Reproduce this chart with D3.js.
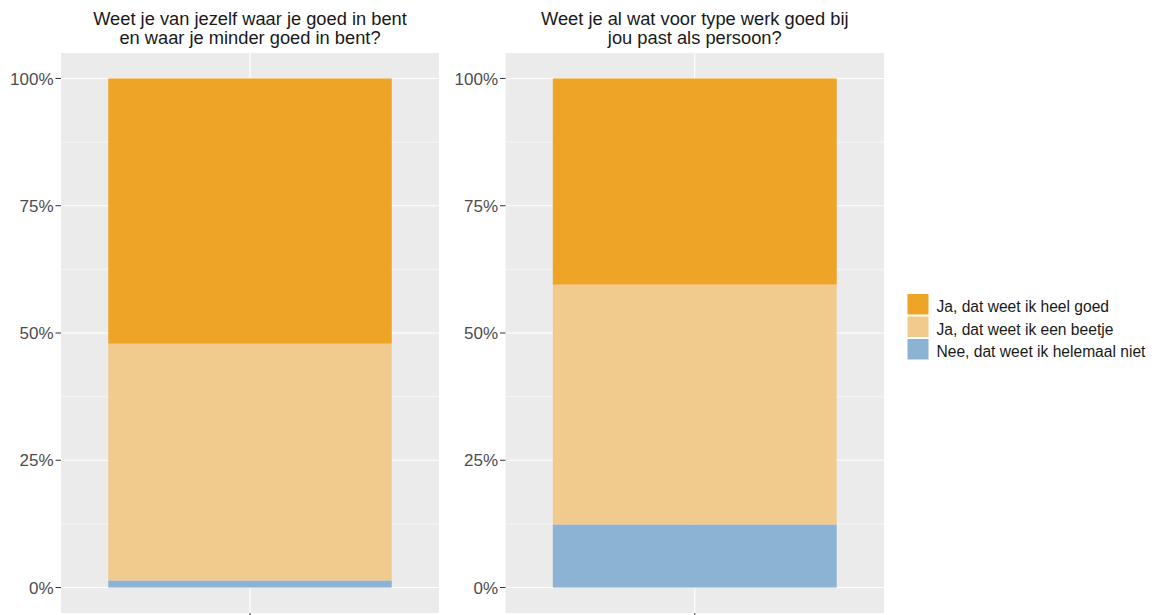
<!DOCTYPE html>
<html><head><meta charset="utf-8">
<script src="https://cdn.jsdelivr.net/npm/d3@7"></script>
<style>body{margin:0;background:#fff}svg{display:block}</style>
</head><body>
<svg id="c" width="1152" height="615"></svg>
<script>
const titles = [
  ["Weet je van jezelf waar je goed in bent", "en waar je minder goed in bent?"],
  ["Weet je al wat voor type werk goed bij", "jou past als persoon?"]
];
const categories = ["Ja, dat weet ik heel goed", "Ja, dat weet ik een beetje", "Nee, dat weet ik helemaal niet"];
const colors = ["#EEA426", "#F1CB8D", "#8CB3D3"];
// share per category, per panel (heel goed, beetje, helemaal niet)
const panel1Values = [0.521, 0.465, 0.014];
const panel2Values = [0.405, 0.471, 0.124];
const yTicks = [0, 0.25, 0.5, 0.75, 1];
const yTickLabels = ["0%", "25%", "50%", "75%", "100%"];
const yMinor = [0.125, 0.375, 0.625, 0.875];

const svg = d3.select("#c");
const font = "'Liberation Sans', Arial, sans-serif";
const panels = [
  {left: 61, right: 439, values: panel1Values, title: titles[0]},
  {left: 505.5, right: 884, values: panel2Values, title: titles[1]}
];
const pTop = 53, pBottom = 613;
const y = d3.scaleLinear().domain([-0.05, 1.05]).range([pBottom, pTop]);

panels.forEach(p => {
  const x = d3.scaleLinear().domain([0.4, 1.6]).range([p.left, p.right]);
  const g = svg.append("g");
  g.append("rect").attr("x", p.left).attr("y", pTop).attr("width", p.right - p.left)
    .attr("height", pBottom - pTop).attr("fill", "#EBEBEB");
  g.selectAll(".minor").data(yMinor).join("line")
    .attr("x1", p.left).attr("x2", p.right).attr("y1", d => y(d)).attr("y2", d => y(d))
    .attr("stroke", "#fff").attr("stroke-width", 0.55);
  g.selectAll(".major").data(yTicks).join("line")
    .attr("x1", p.left).attr("x2", p.right).attr("y1", d => y(d)).attr("y2", d => y(d))
    .attr("stroke", "#fff").attr("stroke-width", 1.1);
  g.append("line").attr("x1", x(1)).attr("x2", x(1)).attr("y1", pTop).attr("y2", pBottom)
    .attr("stroke", "#fff").attr("stroke-width", 1.1);

  // stacked bars: blue at bottom, then light, then orange on top
  let cum = 0;
  const segs = [];
  for (let i = categories.length - 1; i >= 0; i--) {
    segs.push({i, y0: cum, y1: cum + p.values[i]});
    cum += p.values[i];
  }
  g.selectAll(".bar").data(segs).join("rect")
    .attr("x", x(0.55)).attr("width", x(1.45) - x(0.55))
    .attr("y", d => y(d.y1)).attr("height", d => y(d.y0) - y(d.y1))
    .attr("fill", d => colors[d.i]);

  // y axis
  yTicks.forEach((t, k) => {
    g.append("line").attr("x1", p.left - 5.5).attr("x2", p.left).attr("y1", y(t)).attr("y2", y(t))
      .attr("stroke", "#333").attr("stroke-width", 1);
    g.append("text").attr("x", p.left - 7.5).attr("y", y(t)).attr("dy", "0.36em")
      .attr("text-anchor", "end").attr("font-family", font).attr("font-size", 17)
      .attr("fill", "#4D4D4D").text(yTickLabels[k]);
  });
  // x tick
  g.append("line").attr("x1", x(1)).attr("x2", x(1)).attr("y1", pBottom).attr("y2", pBottom + 5)
    .attr("stroke", "#333").attr("stroke-width", 1);

  // title
  const cx = (p.left + p.right) / 2;
  p.title.forEach((line, k) => {
    g.append("text").attr("x", cx).attr("y", 24.5 + k * 19.5).attr("text-anchor", "middle")
      .attr("font-family", font).attr("font-size", 18.3).attr("fill", "#1A1A1A").text(line);
  });
});

// legend
const lg = svg.append("g");
categories.forEach((c, i) => {
  const ky = 294 + i * 22.5;
  lg.append("rect").attr("x", 907.5).attr("y", ky).attr("width", 21).attr("height", 20.5)
    .attr("fill", colors[i]);
  lg.append("text").attr("x", 936.5).attr("y", ky + 18)
    .attr("font-family", font).attr("font-size", 15.6).attr("fill", "#1A1A1A").text(c);
});
</script>
</body></html>
